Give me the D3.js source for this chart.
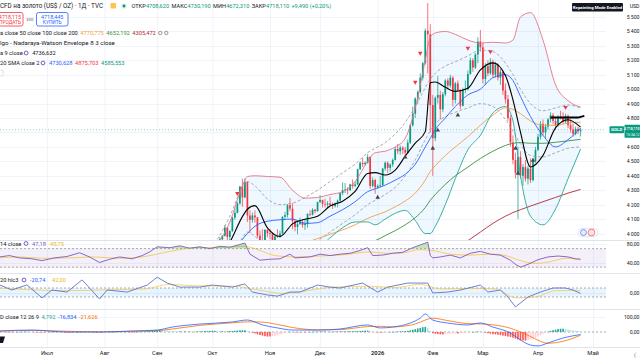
<!DOCTYPE html>
<html><head><meta charset="utf-8">
<script src="https://cdn.jsdelivr.net/npm/d3@7"></script>
<style>
html,body{margin:0;padding:0;background:#fff;overflow:hidden;}
svg{display:block;font-family:Roboto,"Noto Sans",sans-serif;}
</style></head><body>
<svg id="chart" width="640" height="360"></svg>
<script>
// ---------- DATA ----------
const monthLabels = ["Июл","Авг","Сен","Окт","Ноя","Дек","2026","Фев","Мар","Апр","Май"];
const monthKeys = [[2025,6],[2025,7],[2025,8],[2025,9],[2025,10],[2025,11],[2026,0],[2026,1],[2026,2],[2026,3],[2026,4]];
const priceTicks = [4000,4100,4200,4300,4400,4500,4600,4700,4800,4900,5000,5100,5200,5300,5400,5500];

// daily candles from 2025-10-01 (weekdays)
const open = [3858,3866,3857,3886,3960,3984,4041,3976,4017,4110,
 4143,4208,4325,4250,4357,4125,4095,4125,4112,3985,
 3952,3930,4025,4002,4000,3945,3980,3978,4000,4115,
 4128,4196,4172,4085,4045,4065,4080,4058,4065,4135,
 4130,4165,4155,4218,4232,4205,4200,4208,4198,4190,
 4208,4228,4280,4300,4305,4300,4340,4330,4340,4445,
 4490,4480,4490,4530,4330,4370,4320,4330,4335,4450,
 4490,4455,4478,4510,4585,4570,4595,4580,4560,4630,
 4750,4830,4935,4980,5080,5180,5405,5380,4890,4660,
 4940,4960,4860,4965,5060,5025,5080,4925,5040,4995,
 4885,4995,5000,5105,5200,5150,5240,5330,5290,5070,
 5160,5110,5190,5100,5170,5080,5120,4990,4930,4800,
 4630,4510,4420,4530,4400,4460,4380,4450,4370,4500,
 4580,4670,4760,4700,4740,4790,4820,4780,4750,4810,
 4800,4775,4815,4750,4720,4690,4725,4708.62];
const high = [3895,3875,3890,3975,3990,4059,4045,4022,4116,4180,
 4218,4330,4380,4381,4360,4160,4145,4160,4115,4020,
 4030,4030,4030,4030,4005,3990,4030,4020,4120,4150,
 4205,4245,4210,4095,4080,4110,4095,4100,4140,4160,
 4175,4170,4220,4265,4235,4240,4225,4255,4215,4215,
 4235,4285,4355,4350,4320,4345,4375,4360,4450,4500,
 4525,4500,4550,4535,4390,4380,4340,4400,4455,4500,
 4500,4485,4520,4600,4620,4610,4605,4600,4650,4760,
 4880,4945,4990,5110,5190,5420,5597,5450,4960,4950,
 5090,4990,4980,5070,5075,5100,5090,5050,5060,5000,
 5010,5060,5130,5220,5215,5250,5360,5410,5320,5180,
 5200,5215,5205,5190,5180,5140,5130,5040,4960,4820,
 4680,4560,4600,4570,4480,4510,4470,4520,4520,4600,
 4690,4780,4790,4760,4800,4840,4835,4800,4820,4850,
 4840,4830,4825,4790,4760,4740,4740,4730.19];
const low = [3850,3820,3840,3884,3940,3980,3945,3945,4010,4095,
 4140,4200,4185,4245,4080,4003,4075,4075,3970,3886,
 3920,3920,3975,3960,3930,3935,3970,3970,3995,4095,
 4110,4155,4030,4015,3995,4060,4040,4025,4040,4120,
 4125,4140,4150,4210,4180,4180,4175,4195,4170,4180,
 4180,4210,4265,4280,4270,4295,4310,4320,4338,4440,
 4460,4470,4485,4310,4320,4275,4310,4320,4330,4435,
 4420,4430,4460,4505,4550,4545,4550,4530,4555,4620,
 4740,4800,4900,4970,5060,5170,5110,4700,4400,4640,
 4900,4790,4840,4950,5000,5010,4880,4900,4980,4860,
 4880,4970,4990,5100,5120,5140,5180,5260,5040,5030,
 5090,5100,5080,5080,5060,5030,4960,4900,4780,4600,
 4480,4380,4100,4380,4330,4360,4340,4350,4360,4490,
 4570,4650,4680,4660,4720,4770,4760,4720,4740,4790,
 4760,4765,4730,4700,4670,4680,4690,4672.31];
const close = [3866,3857,3886,3960,3984,4041,3976,4017,4110,4143,
 4208,4325,4250,4357,4125,4095,4125,4112,3985,3952,
 3930,4025,4002,4000,3945,3980,3978,4000,4115,4128,
 4196,4172,4085,4045,4065,4080,4058,4065,4135,4130,
 4165,4155,4218,4232,4205,4200,4208,4198,4190,4208,
 4228,4280,4300,4305,4300,4340,4330,4340,4445,4490,
 4480,4490,4530,4330,4370,4320,4330,4335,4450,4490,
 4455,4478,4510,4585,4570,4595,4580,4560,4630,4750,
 4830,4935,4980,5080,5180,5405,5380,4890,4660,4940,
 4960,4860,4965,5060,5025,5080,4925,5040,4995,4885,
 4995,5000,5105,5200,5150,5240,5330,5290,5070,5160,
 5110,5190,5100,5170,5080,5120,4990,4930,4800,4630,
 4510,4420,4530,4400,4460,4380,4450,4370,4500,4580,
 4670,4760,4700,4740,4790,4820,4780,4750,4810,4800,
 4775,4815,4750,4720,4690,4725,4708.62,4718.11];

// overlay lines (bar index samples)
const lineIdx = [84,89,94,99,101,104,109,114,119,124,129,134,139,144,149,152,156,160,164,168,172,174,176,180,184,189,194,199,204,207,210,214,219,224,229,234];
const sma9   = [3740,3820,3940,4117,4168,4193,4039,3979,4067,4099,4119,4190,4224,4292,4416,4422,4405,4439,4536,4626,4706,5045,5050,5013,4985,5006,5133,5182,5095,4926,4703,4461,4541,4732,4788,4736.63];
const bbBasis= [3680,3760,3850,3960,4000,4050,4085,4095,4100,4070,4075,4120,4165,4220,4290,4310,4335,4370,4410,4480,4600,4660,4720,4800,4880,4960,5000,5080,5100,5060,4950,4810,4680,4600,4650,4730.63];
const bbUpper= [3860,3930,4080,4330,4395,4400,4395,4390,4300,4245,4250,4270,4290,4360,4500,4560,4570,4600,4660,4870,5200,5360,5390,5400,5380,5340,5320,5325,5320,5340,5500,5530,5340,5030,4920,4875.70];
const bbLower= [3500,3590,3620,3590,3605,3700,3775,3800,3900,3895,3900,3970,4040,4080,4080,4060,4100,4140,4160,4090,4000,4000,4050,4200,4380,4580,4680,4835,4880,4780,4400,4120,4060,4170,4380,4585.55];
const ema50  = [3520,3565,3630,3710,3740,3785,3830,3865,3905,3935,3965,3995,4025,4060,4105,4125,4150,4185,4225,4280,4370,4430,4470,4540,4600,4670,4750,4820,4870,4860,4830,4780,4750,4750,4765,4770.78];
const ema100 = [3440,3480,3530,3580,3600,3620,3665,3700,3730,3760,3790,3820,3860,3900,3930,3950,3985,4020,4060,4110,4180,4230,4270,4340,4400,4460,4520,4570,4610,4625,4630,4625,4625,4632,4642,4652.19];
const ema200 = [3250,3270,3295,3320,3330,3345,3370,3395,3420,3445,3470,3495,3520,3545,3575,3590,3610,3635,3665,3700,3740,3770,3795,3840,3890,3950,4010,4070,4120,4145,4165,4190,4220,4250,4280,4305.47];
const nwUpper= [3850,3960,4120,4320,4360,4330,4240,4200,4210,4250,4300,4360,4420,4480,4560,4590,4630,4690,4770,4880,5010,5070,5110,5160,5190,5230,5270,5260,5180,5100,5000,4900,4850,4870,4890,4870];
const nwLower= [3500,3610,3770,3970,4010,3980,3890,3850,3860,3900,3950,4010,4070,4130,4200,4230,4270,4320,4400,4510,4650,4710,4760,4810,4840,4870,4900,4880,4790,4710,4620,4540,4530,4560,4590,4600];

const sellIdx = [97,168,170,189,198,228];
const sellPrice = [4278,5049,5250,5285,5260,4875];
const buyIdx = [153,164,175,177,185,208,209,215];
const buyPrice = [4250,4528,4590,4715,4820,4590,4417,4507];
const levelIdx = [222,233,235.5];
const levelPrice = [4803,4803,4815];

// RSI
const rsiIdx = [2,6,10,15,19,24,29,34,38,42,46,50,55,59,62,65,70,74,78,82,86,90,94,98,100,102,106,110,114,118,120,126,130,134,138,142,146,149,151,155,159,163,167,171,173,174,175,178,182,186,190,194,198,202,206,208,210,213,217,221,225,229,232,234];
const rsiVal = [52,55,50,48,44,50,53,61,52,40,47,52,48,55,63,74,72,76,71,74,70,75,73,79,82,58,45,47,48,58,50,52,58,55,58,60,66,72,55,56,60,62,72,80,84,55,50,52,56,50,60,64,58,56,45,36,30,36,46,52,54,52,48,47.18];
const rsiMaIdx = [2,10,20,30,40,50,60,70,80,90,100,106,112,120,130,140,150,156,162,170,176,182,190,198,204,210,216,222,228,234];
const rsiMaVal = [50,52,49,50,52,49,53,64,72,73,75,66,55,52,54,57,63,60,60,68,65,58,56,58,55,44,38,42,49,45.75];
// CCI
const cciIdx = [2,7,13,19,23,29,35,38,42,45,53,61,65,69,74,82,87,95,100,103,109,113,118,122,129,134,138,147,153,157,165,173,175,181,186,194,197,202,205,208,213,218,223,228,231,234];
const cciVal = [170,55,170,-120,55,10,280,100,-145,55,10,165,340,210,120,120,165,120,190,10,-55,-80,10,10,165,120,100,210,10,120,210,210,-10,10,55,165,10,55,-100,-320,-100,10,100,100,55,-20.74];
const cciMaIdx = [2,15,30,45,60,70,80,95,105,115,125,135,150,160,170,178,190,200,208,216,224,234];
const cciMaVal = [100,60,40,60,80,180,150,140,60,-20,40,120,140,110,180,80,90,80,-120,-100,40,42];
// MACD
const macdIdx = [2,15,29,42,55,65,71,82,95,101,107,113,119,129,138,149,154,159,166,170,172,175,181,189,194,199,206,210,214,217,221,227,234];
const macdVal = [7,13,0,0,7,13,33,53,67,80,47,27,13,13,20,47,27,33,60,93,120,80,60,47,60,33,-7,-53,-87,-93,-73,-40,-16.83];
const signalVal = [5,11,5,1,4,9,20,44,61,68,66,50,30,14,16,36,38,34,45,66,80,92,76,56,54,48,25,0,-30,-55,-75,-62,-21.63];
const histVal = [1,2,2,1,0,-1,-2,-2,-1,0,
 1,1,2,2,1,0,-1,-1,-2,-2,
 -2,-1,0,1,1,2,1,0,-1,-1,
 -2,-2,-1,0,1,2,3,2,1,0,
 -1,-2,-3,-3,-2,-1,0,1,1,2,
 2,1,1,0,-1,-1,0,1,2,3,
 4,6,8,10,12,13,14,13,12,10,
 8,7,6,5,5,4,4,3,3,2,
 2,3,4,5,6,6,7,8,8,7,
 6,6,5,5,6,7,8,10,11,12,
 12,6,0,-5,-10,-15,-20,-24,-28,-30,
 -30,-28,-25,-21,-16,-11,-6,-2,1,0,
 -2,-3,-3,-2,-2,-1,0,1,2,2,
 3,3,3,2,2,2,3,3,4,4,
 4,4,5,5,5,6,7,8,9,9,
 5,2,0,-2,-3,-3,-2,-1,0,1,
 2,3,4,5,6,8,11,15,19,24,
 28,32,34,25,8,-8,-12,-14,-15,-16,
 -15,-14,-12,-11,-10,-10,-9,-8,-6,-4,
 -2,0,2,3,2,0,-4,-8,-11,-15,
 -16,-18,-21,-24,-27,-30,-33,-38,-44,-50,
 -55,-56,-57,-55,-50,-45,-38,-30,-22,-12,
 -4,2,8,12,16,20,22,22,20,16,
 13,10,8,6,4.79];

// ---------- LAYOUT ----------
const PR = 606;
const dates = [];
{ let d = new Date(Date.UTC(2025,5,2)); while (dates.length < 241) { const wd = d.getUTCDay(); if (wd !== 0 && wd !== 6) dates.push(new Date(d)); d.setUTCDate(d.getUTCDate()+1); } }
const firstIdx = (y,m) => dates.findIndex(d => d.getUTCFullYear()===y && d.getUTCMonth()===m);
const candleStart = firstIdx(2025,9);
const monthIdx = monthKeys.map(k => firstIdx(k[0],k[1]));

const x = d3.scaleLinear().domain([monthIdx[0], monthIdx[9]]).range([47, 538]);
const yP = d3.scaleLinear().domain([4000,5500]).range([233.5,17]);
const yR = d3.scaleLinear().domain([40,80]).range([262.5,244]);
const yC = d3.scaleLinear().domain([-100,100]).range([297,288]);
const yM = d3.scaleLinear().domain([0,100]).range([332,317]);

const svg = d3.select('#chart');
const defs = svg.append('defs');
function clip(id,x0,y0,w,h){ defs.append('clipPath').attr('id',id).append('rect').attr('x',x0).attr('y',y0).attr('width',w).attr('height',h); }
clip('cp-price',0,0,PR,240); clip('cp-rsi',0,240,PR,33); clip('cp-cci',0,273,PR,36); clip('cp-macd',0,309,PR,38);
clip('cp-ob',0,240,PR,yR(70)-240); clip('cp-os',0,yR(30),PR,273-yR(30));

const TXT = '#131722';
// grid
const grid = svg.append('g');
grid.selectAll('.vg').data(monthIdx).join('line').attr('x1',d=>x(d)+0.5).attr('x2',d=>x(d)+0.5).attr('y1',0).attr('y2',347).attr('stroke','#f0f3fa');
grid.selectAll('.hg').data(priceTicks).join('line').attr('x1',0).attr('x2',PR).attr('y1',d=>Math.round(yP(d))+0.5).attr('y2',d=>Math.round(yP(d))+0.5).attr('stroke','#f0f3fa');
[[yR,80],[yR,40],[yC,0],[yM,100]].forEach(([s,v])=>grid.append('line').attr('x1',0).attr('x2',PR).attr('y1',Math.round(s(v))+0.5).attr('y2',Math.round(s(v))+0.5).attr('stroke','#f0f3fa'));

// pane separators
[240,273,309,347].forEach(y=>svg.append('line').attr('x1',0).attr('x2',640).attr('y1',y+0.5).attr('y2',y+0.5).attr('stroke','#e0e3eb'));

// ---------- PRICE PANE ----------
const pp = svg.append('g').attr('clip-path','url(#cp-price)');
const mkLine = (ys, curve) => d3.line().x(d=>x(d[0])).y(d=>ys(d[1])).curve(curve||d3.curveMonotoneX);
const pairs = (idx, vals) => idx.map((i,k)=>[i, vals[k]]);

pp.append('path').datum(lineIdx.map((i,k)=>[i,bbUpper[k],bbLower[k]]))
  .attr('d', d3.area().x(d=>x(d[0])).y0(d=>yP(d[2])).y1(d=>yP(d[1])).curve(d3.curveMonotoneX))
  .attr('fill','rgba(33,150,243,0.07)');

pp.append('line').attr('x1',0).attr('x2',PR).attr('y1',yP(close[close.length-1])).attr('y2',yP(close[close.length-1]))
  .attr('stroke','#089981').attr('stroke-opacity',0.45).attr('stroke-dasharray','1,2');

const cdata = close.map((c,k)=>({i:candleStart+k,o:open[k],h:high[k],l:low[k],c:c}));
const col = d => d.c >= d.o ? '#089981' : '#f23645';
pp.append('g').selectAll('line').data(cdata).join('line')
  .attr('x1',d=>x(d.i)).attr('x2',d=>x(d.i)).attr('y1',d=>yP(d.h)).attr('y2',d=>yP(d.l))
  .attr('stroke',col).attr('stroke-width',0.7);
pp.append('g').selectAll('rect').data(cdata).join('rect')
  .attr('x',d=>x(d.i)-0.85).attr('width',1.7)
  .attr('y',d=>yP(Math.max(d.o,d.c))).attr('height',d=>Math.max(0.7, yP(Math.min(d.o,d.c))-yP(Math.max(d.o,d.c))))
  .attr('fill',col);

function drawLine(g, data, ys, color, w, dash, op, curve){
  g.append('path').datum(data).attr('d', mkLine(ys, curve)).attr('fill','none')
   .attr('stroke',color).attr('stroke-width',w).attr('stroke-dasharray',dash||null).attr('stroke-opacity',op||1);
}
drawLine(pp, pairs(lineIdx,nwUpper), yP, '#9598a1', 0.9, '3,2', 0.9);
drawLine(pp, pairs(lineIdx,nwLower), yP, '#9598a1', 0.9, '3,2', 0.9);
drawLine(pp, pairs(lineIdx,ema200), yP, '#b22833', 1, null, 0.9);
drawLine(pp, pairs(lineIdx,ema100), yP, '#3f8f3f', 1, null, 0.9);
drawLine(pp, pairs(lineIdx,ema50), yP, '#f0a04b', 1, null, 0.9);
drawLine(pp, pairs(lineIdx,bbUpper), yP, '#e57385', 1, null, 0.9);
drawLine(pp, pairs(lineIdx,bbLower), yP, '#26a69a', 1, null, 0.9);
drawLine(pp, pairs(lineIdx,bbBasis), yP, '#2962ff', 1, null, 0.9);
drawLine(pp, pairs(lineIdx,sma9), yP, '#000000', 1.1, null, 1);

const tri = d3.symbol().type(d3.symbolTriangle).size(9);
pp.append('g').selectAll('path').data(sellIdx.map((i,k)=>[i,sellPrice[k]])).join('path')
  .attr('d',tri).attr('transform',d=>`translate(${x(d[0])},${yP(d[1])}) rotate(180)`).attr('fill','#f23645');
pp.append('g').selectAll('path').data(buyIdx.map((i,k)=>[i,buyPrice[k]])).join('path')
  .attr('d',tri).attr('transform',d=>`translate(${x(d[0])},${yP(d[1])})`).attr('fill','#434651');

drawLine(pp, pairs(levelIdx,levelPrice), yP, '#000000', 2, null, 1, d3.curveLinear);

const ev = svg.append('g');
ev.append('rect').attr('x',578).attr('y',228.5).attr('width',20).attr('height',8).attr('rx',4).attr('fill','#fff').attr('stroke','#d1d4dc').attr('stroke-width',0.6);
ev.append('circle').attr('cx',583.5).attr('cy',232.5).attr('r',3).attr('fill','#e3ecff').attr('stroke','#2962ff').attr('stroke-width',0.6);
ev.append('circle').attr('cx',591.5).attr('cy',232.5).attr('r',3.4).attr('fill','#ffe0e3').attr('stroke','#f23645').attr('stroke-width',0.6);

// ---------- RSI ----------
const rp = svg.append('g').attr('clip-path','url(#cp-rsi)');
rp.append('rect').attr('x',0).attr('width',PR).attr('y',yR(70)).attr('height',yR(30)-yR(70)).attr('fill','rgba(126,87,194,0.09)');
[70,30].forEach(v=>rp.append('line').attr('x1',0).attr('x2',PR).attr('y1',yR(v)).attr('y2',yR(v)).attr('stroke','#9598a1').attr('stroke-dasharray','2,2').attr('stroke-width',0.8));
const rsiPairs = pairs(rsiIdx,rsiVal);
const obArea = (lvl) => d3.area().x(d=>x(d[0])).y0(yR(lvl)).y1(d=>yR(d[1]));
svg.append('path').datum(rsiPairs).attr('d',obArea(70)).attr('clip-path','url(#cp-ob)').attr('fill','rgba(76,175,80,0.35)');
svg.append('path').datum(rsiPairs).attr('d',obArea(30)).attr('clip-path','url(#cp-os)').attr('fill','rgba(242,54,69,0.35)');
drawLine(rp, pairs(rsiMaIdx,rsiMaVal), yR, '#f4c542', 0.9, null, 0.9);
drawLine(rp, rsiPairs, yR, '#7e57c2', 0.9, null, 1, d3.curveLinear);

// ---------- CCI ----------
const ccp = svg.append('g').attr('clip-path','url(#cp-cci)');
ccp.append('rect').attr('x',0).attr('width',PR).attr('y',yC(100)).attr('height',yC(-100)-yC(100)).attr('fill','rgba(33,150,243,0.1)');
[100,-100].forEach(v=>ccp.append('line').attr('x1',0).attr('x2',PR).attr('y1',yC(v)).attr('y2',yC(v)).attr('stroke','#9598a1').attr('stroke-dasharray','2,2').attr('stroke-width',0.8));
drawLine(ccp, pairs(cciMaIdx,cciMaVal), yC, '#f4c542', 0.9, null, 0.8);
drawLine(ccp, pairs(cciIdx,cciVal), yC, '#5b74c9', 0.9, null, 1, d3.curveLinear);

// ---------- MACD ----------
const mp = svg.append('g').attr('clip-path','url(#cp-macd)');
mp.append('line').attr('x1',0).attr('x2',PR).attr('y1',yM(0)).attr('y2',yM(0)).attr('stroke','#9598a1').attr('stroke-dasharray','2,2').attr('stroke-width',0.8);
const hcol = (v,k) => { const p = k>0 ? histVal[k-1] : v; if (v>=0) return v>=p ? '#26a69a' : '#b2dfdb'; return v<=p ? '#ff5252' : '#ffcdd2'; };
mp.append('g').selectAll('rect').data(histVal).join('rect')
  .attr('x',(v,k)=>x(k)-0.8).attr('width',1.6)
  .attr('y',v=>Math.min(yM(v),yM(0))).attr('height',v=>Math.max(0.5,Math.abs(yM(v)-yM(0))))
  .attr('fill',(v,k)=>hcol(v,k));
drawLine(mp, pairs(macdIdx,signalVal), yM, '#ff6d00', 0.9, null, 0.9);
drawLine(mp, pairs(macdIdx,macdVal), yM, '#2962ff', 0.9, null, 0.9);

// ---------- AXES ----------
const fmtP = v => Math.floor(v/1000) + '\u2009' + String(v%1000).padStart(3,'0');
svg.append('g').selectAll('text').data(priceTicks.filter(v=>v!==4700)).join('text')
  .attr('x',639.5).attr('text-anchor','end').attr('y',d=>yP(d)+2).attr('font-size',5.2).attr('fill',TXT).text(fmtP);
const sideLabels = [[yR(80),'80,00'],[yR(40),'40,00'],[yC(0),'0,00'],[yM(100),'100,00'],[yM(0),'0,00']];
svg.append('g').selectAll('text').data(sideLabels).join('text')
  .attr('x',639.5).attr('text-anchor','end').attr('y',d=>d[0]+2).attr('font-size',5.2).attr('fill',TXT).text(d=>d[1]);
svg.append('text').attr('x',639.5).attr('text-anchor','end').attr('y',8).attr('font-size',5.2).attr('fill',TXT).text('USD');
svg.append('text').attr('x',634).attr('y',357).attr('font-size',6).attr('fill','#787b86').text('(');

svg.append('g').selectAll('text').data(monthIdx.map((i,k)=>[i,monthLabels[k]])).join('text')
  .attr('x',d=>x(d[0])).attr('y',354.5).attr('text-anchor','middle').attr('font-size',5.8)
  .attr('font-weight',d=>d[1]==='2026'?'600':'400').attr('fill',TXT).text(d=>d[1]);

// current price labels
const lastY = yP(close[close.length-1]);
svg.append('rect').attr('x',609.5).attr('y',lastY-3.5).attr('width',14.5).attr('height',7).attr('rx',1).attr('fill','#089981');
svg.append('text').attr('x',616.7).attr('y',lastY+1.6).attr('text-anchor','middle').attr('font-size',4.4).attr('font-weight','700').attr('fill','#fff').text('GOLD');
svg.append('rect').attr('x',624.5).attr('y',lastY-5).attr('width',16).attr('height',13).attr('rx',1).attr('fill','#089981');
svg.append('text').attr('x',639.6).attr('text-anchor','end').attr('y',lastY+0.6).attr('font-size',3.5).attr('font-weight','600').attr('fill','#fff').text('4\u2009718,110');
svg.append('text').attr('x',639.6).attr('text-anchor','end').attr('y',lastY+6.2).attr('font-size',3.5).attr('fill','#fff').text('15:34:12');

svg.append('rect').attr('x',572).attr('y',3).attr('width',51).attr('height',8.5).attr('rx',1).attr('fill','#131722');
svg.append('text').attr('x',597.5).attr('y',8.9).attr('text-anchor','middle').attr('font-size',4.3).attr('font-weight','700').attr('fill','#fff').text('Repainting Mode Enabled');

// ---------- LEGENDS ----------
function txt(x0,y0,s,color,size){ return svg.append('text').attr('x',x0).attr('y',y0).attr('font-size',size||5.8).attr('fill',color).text(s); }
function endOf(t){ return +t.attr('x') + t.node().getComputedTextLength(); }
// row: items [text,color,refX]; place each at max(refX, previous end + gap)
function row(y0, items, size){
  let end = -Infinity; const out=[];
  items.forEach(it=>{ const xx = Math.max(it[2], end + (it[3]||2.5)); const t = txt(xx,y0,it[0],it[1],size); end = endOf(t); out.push(t); });
  return end;
}
function gear(cx,cy){ svg.append('circle').attr('cx',cx).attr('cy',cy).attr('r',1.9).attr('fill','none').attr('stroke','#7e57c2').attr('stroke-width',1); }
const G='#089981';
txt(0,8,'CFD на золото (US$ / OZ) · 1Д · TVC',TXT,6.3);
svg.append('rect').attr('x',110.5).attr('y',3).attr('width',5.5).attr('height',5.5).attr('rx',1).attr('fill','#ffc34d');
svg.append('circle').attr('cx',124).attr('cy',6).attr('r',2.6).attr('fill','#d6f0ea');
svg.append('circle').attr('cx',124).attr('cy',6).attr('r',1.4).attr('fill',G);
row(8,[['ОТКР',TXT,131.5],['4708,620',G,0,0.2],['МАКС',TXT,171],['4730,190',G,0,0.2],['МИН',TXT,211],['4672,310',G,0,0.2],['ЗАКР',TXT,245.5],['4718,110',G,0,0.2],['+9,490 (+0,20%)',G,0,2.2]],5.6);

svg.append('rect').attr('x',-3).attr('y',12.5).attr('width',26).attr('height',13.5).attr('rx',2).attr('fill','#fff').attr('stroke','#f23645').attr('stroke-width',0.8);
svg.append('text').attr('x',10).attr('y',18.6).attr('text-anchor','middle').attr('font-size',5.4).attr('fill','#f23645').text('4718,115');
svg.append('text').attr('x',10).attr('y',24.4).attr('text-anchor','middle').attr('font-size',4.8).attr('fill','#f23645').text('ПРОДАТЬ');
svg.append('text').attr('x',29.8).attr('y',21).attr('text-anchor','middle').attr('font-size',4.2).attr('fill','#555').text('330');
svg.append('rect').attr('x',36.5).attr('y',12.5).attr('width',31.5).attr('height',13.5).attr('rx',2).attr('fill','#fff').attr('stroke','#2962ff').attr('stroke-width',0.8);
svg.append('text').attr('x',52.2).attr('y',18.6).attr('text-anchor','middle').attr('font-size',5.4).attr('fill','#2962ff').text('4718,445');
svg.append('text').attr('x',52.2).attr('y',24.4).attr('text-anchor','middle').attr('font-size',4.8).attr('fill','#2962ff').text('КУПИТЬ');

const e3 = row(35,[['a close 50 close 100 close 200',TXT,0],['4770,775','#f0a04b',74],['4652,192','#3f8f3f',100],['4305,472','#b22833',128]],5.7);
[e3+4.5, e3+10.5].forEach(cx=>{svg.append('circle').attr('cx',cx).attr('cy',33).attr('r',1.7).attr('fill','none').attr('stroke','#555').attr('stroke-width',0.6);});
txt(0,45,'lgo - Nadaraya-Watson Envelope 8 3 close',TXT,6.2);
{ const t=txt(0,55,'a 9 close',TXT,5.7); const g0=Math.max(24,endOf(t)+3.5); gear(g0,53); txt(g0+6,55,'4736,632',TXT,5.7); }
{ const t=txt(0,65,'20 SMA close 2',TXT,5.7); const g0=Math.max(40.5,endOf(t)+3.5); gear(g0,63);
  row(65,[['4730,628','#2962ff',g0+6],['4875,703','#f23645',74],['4585,553',G,100]],5.7); }
svg.append('rect').attr('x',-1).attr('y',70).attr('width',4).attr('height',6).attr('rx',1).attr('fill','#fff').attr('stroke','#c9ccd4').attr('stroke-width',0.6);

{ const t=txt(0,245.5,'14 close',TXT,5.7); const g0=Math.max(26,endOf(t)+3.5); gear(g0,243.5); row(245.5,[['47,18','#7e57c2',g0+6],['45,75','#e8b923',50]],5.7); }
{ const t=txt(0,282,'20 hlc3',TXT,5.7); const g0=Math.max(24,endOf(t)+3.5); gear(g0,280); row(282,[['-20,74','#2962ff',g0+6],['42,00','#e8b923',52]],5.7); }
row(319,[['D close 12 26 9',TXT,0],['4,792','#26a69a',40],['-16,834','#2962ff',57],['-21,626','#ff6d00',77]],5.7);

svg.append('path').attr('d','M0,336.5 L5,336.5 L3,343 L0,343 Z').attr('fill','#131722');
</script>
</body></html>
